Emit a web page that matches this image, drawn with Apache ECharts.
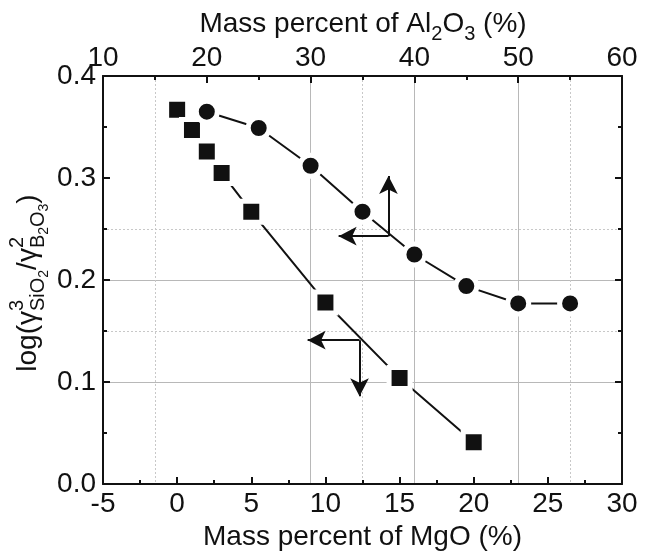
<!DOCTYPE html>
<html>
<head>
<meta charset="utf-8">
<script src="https://cdn.jsdelivr.net/npm/echarts@6/dist/echarts.min.js"></script>
<style>
  html, body { margin: 0; padding: 0; background: #fff; }
  #chart { width: 645px; height: 556px; }
</style>
</head>
<body>
<div id="chart"></div>
<script>
// MgO series (bottom axis)
const mgoPct = [0, 1, 2, 3, 5, 10, 15, 20]
const mgoLogRatio = [0.367, 0.347, 0.326, 0.305, 0.267, 0.178, 0.104, 0.041]

// Al2O3 series (top axis)
const alPct = [20, 25, 30, 35, 40, 45, 50, 55]
const alLogRatio = [0.365, 0.349, 0.312, 0.267, 0.225, 0.194, 0.177, 0.177]

// arrow annotations: [corner, up/down tip, left tip] in data units
const alArrow = [[37.5, 0.243], [37.5, 0.302], [32.7, 0.243]]
const mgoArrow = [[12.3, 0.141], [12.3, 0.086], [8.8, 0.141]]

const FONT = '"Liberation Sans", Arial, Helvetica, sans-serif'
const FS = 28
const axisColor = '#111'
const gridSolid = '#b8b8b8'
const gridDot = '#c8c8c8'
const none = 'rgba(0,0,0,0)'

// lay out text with sub/superscripts, stacked groups advance by the widest row
const measureCtx = document.createElement('canvas').getContext('2d')
function formula(runs) {
  const children = []
  let x = 0
  runs.forEach(function(run) {
    const rows = Array.isArray(run[0]) ? run : [run]
    let adv = 0
    rows.forEach(function(row) {
      let rx = x
      const items = Array.isArray(row[0]) ? row : [row]
      items.forEach(function(it) {
        const font = it[1] + 'px ' + FONT
        measureCtx.font = font
        children.push({
          type: 'text',
          x: rx,
          y: it[2] - 0.35 * it[1],
          style: { text: it[0], font: font, fill: axisColor, align: 'left', verticalAlign: 'middle' }
        })
        rx += measureCtx.measureText(it[0]).width
      })
      adv = Math.max(adv, rx - x)
    })
    x += adv
  })
  return { children: children, width: x }
}

const yTitle = formula([
  ['log(', FS, 0],
  ['\u03b3', FS, 0],
  [[['3', 20, -14]], [['SiO', 20, 7], ['2', 14, 11]]],
  ['/', FS, 0],
  ['\u03b3', FS, 0],
  [[['2', 20, -14]], [['B', 20, 7], ['2', 14, 11], ['O', 20, 7], ['3', 14, 11]]],
  [')', FS, 0]
])

const topTitle = formula([
  ['Mass percent of Al', FS, 0],
  ['2', 20, 7],
  ['O', FS, 0],
  ['3', 20, 7],
  [' (%)', FS, 0]
])

function arrowLines(a) {
  return [
    [{ coord: a[0], symbol: 'none' }, { coord: a[1], symbol: 'arrow' }],
    [{ coord: a[0], symbol: 'none' }, { coord: a[2], symbol: 'arrow' }]
  ]
}

const markLineBase = {
  silent: true,
  animation: false,
  symbolSize: [14, 18],
  label: { show: false },
  lineStyle: { color: axisColor, width: 2, type: 'solid' },
  emphasis: { disabled: true }
}

const baseAxis = {
  axisLine: { show: true, onZero: false, lineStyle: { color: axisColor, width: 2 } },
  axisTick: { show: true, inside: true, length: 7, lineStyle: { color: axisColor, width: 2 } },
  minorTick: { show: true, splitNumber: 2, length: 4, lineStyle: { color: axisColor, width: 2 } },
  axisLabel: { color: axisColor, fontSize: FS, fontFamily: FONT },
  splitLine: { show: false }
}

const option = {
  animation: false,
  backgroundColor: '#fff',
  grid: { left: 103, right: 23, top: 76, bottom: 66, containLabel: false },
  xAxis: [
    Object.assign({}, baseAxis, {
      type: 'value',
      position: 'bottom',
      min: -5,
      max: 30,
      interval: 5,
      name: 'Mass percent of MgO (%)',
      nameLocation: 'middle',
      nameGap: 39,
      nameTextStyle: { color: axisColor, fontSize: FS, fontFamily: FONT },
      axisLabel: { color: axisColor, fontSize: FS, fontFamily: FONT, margin: 6 }
    }),
    Object.assign({}, baseAxis, {
      type: 'value',
      position: 'top',
      min: 10,
      max: 60,
      interval: 10,
      axisLabel: { color: axisColor, fontSize: FS, fontFamily: FONT, margin: 4 },
      splitLine: {
        show: true,
        lineStyle: { color: [none, none, gridSolid, gridSolid, gridSolid, none], width: 1 }
      }
    }),
    {
      type: 'value',
      position: 'top',
      min: 10,
      max: 60,
      interval: 5,
      axisLine: { show: false },
      axisTick: { show: false },
      axisLabel: { show: false },
      splitLine: {
        show: true,
        lineStyle: {
          color: [none, gridDot, none, none, none, gridDot, none, none, none, gridDot, none],
          width: 1,
          type: [2, 2]
        }
      }
    }
  ],
  yAxis: [
    Object.assign({}, baseAxis, {
      type: 'value',
      position: 'left',
      min: 0,
      max: 0.4,
      interval: 0.1,
      axisLabel: {
        color: axisColor, fontSize: FS, fontFamily: FONT, margin: 7,
        formatter: function(v) { return v.toFixed(1) }
      },
      splitLine: {
        show: true,
        lineStyle: { color: [none, gridSolid, gridSolid, none, none], width: 1 }
      }
    }),
    Object.assign({}, baseAxis, {
      type: 'value',
      position: 'right',
      min: 0,
      max: 0.4,
      interval: 0.1,
      axisLabel: { show: false }
    }),
    {
      type: 'value',
      position: 'left',
      min: 0,
      max: 0.4,
      interval: 0.05,
      axisLine: { show: false },
      axisTick: { show: false },
      axisLabel: { show: false },
      splitLine: {
        show: true,
        lineStyle: {
          color: [none, none, none, gridDot, none, gridDot, none, none, none],
          width: 1,
          type: [2, 2]
        }
      }
    }
  ],
  graphic: [
    {
      type: 'group',
      x: 38,
      y: 283 + yTitle.width / 2,
      rotation: Math.PI / 2,
      children: yTitle.children
    },
    {
      type: 'group',
      x: 363 - topTitle.width / 2,
      y: 34,
      children: topTitle.children
    }
  ],
  series: [
    {
      name: 'MgO',
      type: 'line',
      xAxisIndex: 0,
      yAxisIndex: 0,
      data: mgoPct.map(function(v, i) { return [v, mgoLogRatio[i]] }),
      symbol: 'rect',
      symbolSize: 21,
      lineStyle: { color: axisColor, width: 2 },
      itemStyle: { color: axisColor, borderColor: '#fff', borderWidth: 5 },
      markLine: Object.assign({ data: arrowLines(mgoArrow) }, markLineBase),
      z: 3
    },
    {
      name: 'Al2O3',
      type: 'line',
      xAxisIndex: 1,
      yAxisIndex: 0,
      data: alPct.map(function(v, i) { return [v, alLogRatio[i]] }),
      symbol: 'circle',
      symbolSize: 21,
      lineStyle: { color: axisColor, width: 2 },
      itemStyle: { color: axisColor, borderColor: '#fff', borderWidth: 5 },
      markLine: Object.assign({ data: arrowLines(alArrow) }, markLineBase),
      z: 3
    }
  ]
}

const chart = echarts.init(document.getElementById('chart'), null, { renderer: 'canvas' })
chart.setOption(option)
</script>
</body>
</html>
